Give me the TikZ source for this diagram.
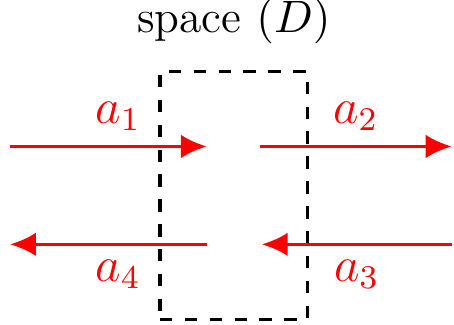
\documentclass[tikz,border=0pt]{standalone}
\usepackage{tikz}
\usetikzlibrary{arrows.meta, positioning}
\definecolor{flow}{RGB}{255,0,0}

\begin{document}
\begin{tikzpicture}[
    flw/.style={-{Latex[length=2.2mm, width=2mm]}, flow, line width=0.8pt},
    lbl/.style={text=flow, font=\large},
    region/.style={draw, dashed, line width=0.8pt, dash pattern=on 3pt off 3pt},
]
\useasboundingbox (0,0) rectangle (3.85,2.75);

% control space
\node[region, minimum width=2.61cm-1.356cm, minimum height=2.144cm-0.042cm, inner sep=0pt] (space) at (1.983,1.093) {};
\node[font=\fontsize{11}{13}\selectfont, above=0.1cm of space] (title) {space $(D)$};

% end points
\coordinate (in1) at (0.085,1.508);
\coordinate (out1) at (1.754,1.508);
\coordinate (in2) at (2.203,1.508);
\coordinate (out2) at (3.83,1.508);
\coordinate (in3) at (3.83,0.678);
\coordinate (out3) at (2.22,0.678);
\coordinate (in4) at (1.754,0.678);
\coordinate (out4) at (0.085,0.678);

% flows
\draw[flw] (in1) -- node[lbl, above, pos=0.55] {$a_1$} (out1);
\draw[flw] (in2) -- node[lbl, above, pos=0.5] {$a_2$} (out2);
\draw[flw] (in3) -- node[lbl, below, pos=0.5] {$a_3$} (out3);
\draw[flw] (in4) -- node[lbl, below, pos=0.45] {$a_4$} (out4);

\end{tikzpicture}
\end{document}
